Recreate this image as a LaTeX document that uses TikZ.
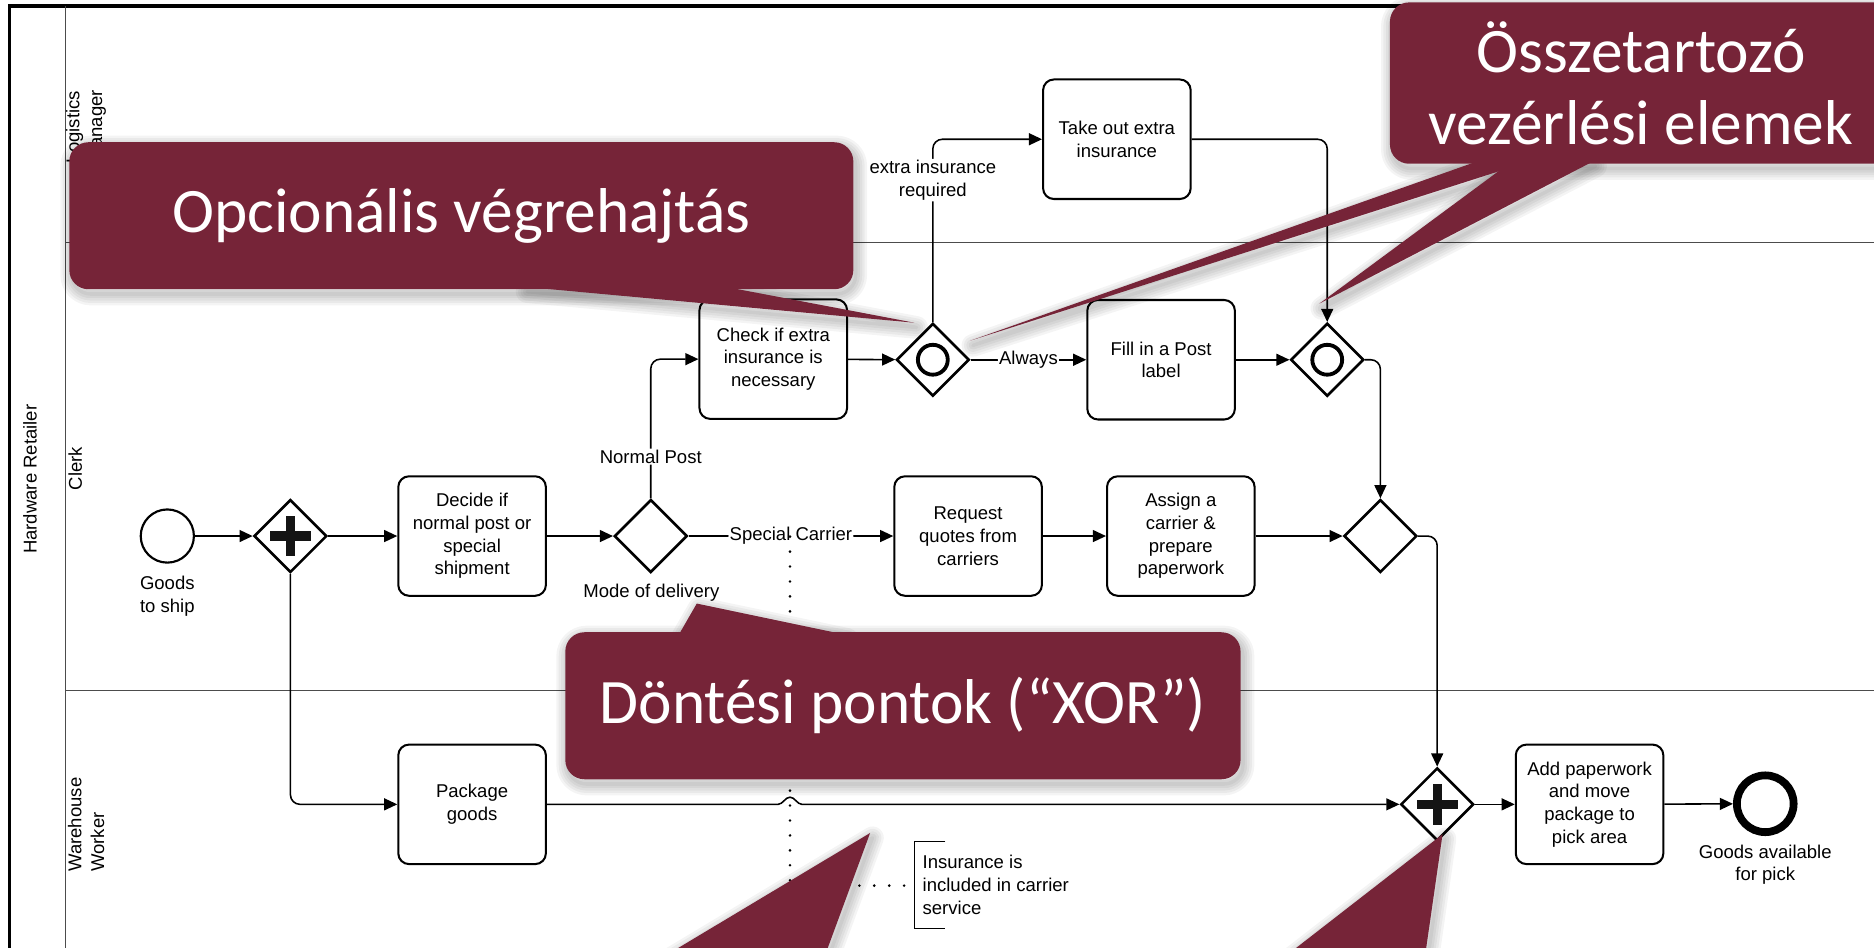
\documentclass[tikz,border=0pt]{standalone}
\usepackage{fontspec}
\setmainfont{Liberation Sans}
\newfontfamily\calfont{Carlito}
\usetikzlibrary{shapes.geometric,arrows.meta,calc}
\definecolor{callred}{RGB}{118,36,56}
\begin{document}
\begin{tikzpicture}[x=1pt,y=-1pt,
  bpmn/.style={font=\fontsize{15.5}{19}\selectfont},
  task/.style={draw, line width=1.7pt, rounded corners=9pt, minimum width=123.5pt, minimum height=100pt, align=center, inner sep=2pt, bpmn},
  gw/.style={draw, diamond, line width=2.2pt, minimum width=61pt, minimum height=61pt, inner sep=0pt, fill=white},
  gwplus/.style={gw, path picture={
      \fill[black!92] (path picture bounding box.center) ++(-17pt,-3.8pt) rectangle ++(34pt,7.6pt);
      \fill[black!92] (path picture bounding box.center) ++(-3.8pt,-17pt) rectangle ++(7.6pt,34pt);}},
  gwor/.style={gw, path picture={
      \draw[black, line width=3.2pt] (path picture bounding box.center) circle[radius=12.5pt];}},
  startev/.style={draw, circle, line width=1.8pt, minimum size=44.5pt, inner sep=0pt},
  endev/.style={draw, circle, line width=6.5pt, minimum size=47.5pt, inner sep=0pt},
  lbl/.style={bpmn, fill=white, inner sep=1pt, align=center},
  txt/.style={bpmn, inner sep=0pt, align=center},
  flow/.style={line width=1.3pt, -{Triangle[length=11pt,width=10pt]}, rounded corners=8pt},
  flowplain/.style={line width=1.3pt, -{Triangle[length=11pt,width=10pt]}},
  assoc/.style={line width=2.4pt, dash pattern=on 0pt off 12.5pt, line cap=round},
  laneline/.style={line width=1pt, draw=black!70},
  callbox/.style={fill=callred, rounded corners=16pt, text=white, align=center, inner sep=0pt,
      font=\calfont\fontsize{53}{60}\selectfont},
  shadowstroke/.style={draw=black, opacity=0.045, line join=round}
]
\useasboundingbox (0,0) rectangle (1568,793);
\begin{scope}
\clip (0,0) rectangle (1568,793);

% ---------- pool and lanes ----------
\draw[line width=2.6pt] (8,800) -- (8,5);
\draw[line width=4pt] (6.7,5) -- (1570,5);
\draw[laneline] (55,5) -- (55,800);
\draw[laneline] (55,203) -- (1570,203);
\draw[laneline] (55,578) -- (1570,578);
\node[bpmn, rotate=90] (poolname) at (25,401) {Hardware Retailer};
\node[bpmn, rotate=90, align=left] (lane1) at (72,106) {Logistics\\Manager};
\node[bpmn, rotate=90] (lane2) at (63,392) {Clerk};
\node[bpmn, rotate=90, align=left] (lane3) at (72,690) {Warehouse\\Worker};

% ---------- flow objects ----------
\node[startev] (start) at (140,448.5) {};
\node[txt] (startlbl) at (140,499) {Goods\\to ship};
\node[gwplus] (pg1) at (243,448.5) {};
\node[task] (decide) at (395,448.5) {Decide if\\normal post or\\special\\shipment};
\node[gw] (xor1) at (544.5,448.5) {};
\node[txt] (xor1lbl) at (545,496) {Mode of delivery};
\node[task] (check) at (647,300.5) {Check if extra\\insurance is\\necessary};
\node[gwor] (or1) at (780.5,301) {};
\node[task] (takeout) at (934.5,116.5) {Take out extra\\insurance};
\node[task] (fill) at (971.5,301) {Fill in a Post\\label};
\node[gwor] (or2) at (1110.5,301) {};
\node[task] (request) at (810,448.5) {Request\\quotes from\\carriers};
\node[task] (assign) at (988,448.5) {Assign a\\carrier \&\\prepare\\paperwork};
\node[gw] (xor2) at (1155,448.5) {};
\node[task] (package) at (395,673) {Package\\goods};
\node[gwplus] (pg2) at (1202.5,673) {};
\node[task] (addpw) at (1330,673) {Add paperwork\\and move\\package to\\pick area};
\node[endev] (endev) at (1477,672.5) {};
\node[txt] (endlbl) at (1477,723.5) {Goods available\\for pick};

% ---------- sequence flows ----------
\draw[flow] (start) -- (pg1);
\draw[flow] (pg1) -- (decide);
\draw[flow] (pg1.south) |- (package.west);
\draw[flow] (decide) -- (xor1);
\draw[flow] (xor1.north) -- node[lbl, pos=0.3] {Normal Post} (xor1.north |- check.west) -- (check.west);
\draw[flow] (xor1.east) -- node[lbl] {Special Carrier} (request.west);
\draw[flow] (check) -- (or1);
\draw[flow] (or1.east) -- node[lbl] {Always} (fill.west);
\draw[flow] (or1.north) -- node[lbl, pos=0.776] {extra insurance\\required} (or1.north |- takeout.west) -- (takeout.west);
\draw[flow] (takeout.east) -| (or2.north);
\draw[flow] (fill) -- (or2);
\draw[flow] (or2.east) -| (xor2.north);
\draw[flow] (request) -- (assign);
\draw[flow] (assign) -- (xor2);
\draw[flow] (xor2.east) -| (pg2.north);
\draw[flowplain] (package.east) -- (651,673) .. controls (655,673) and (657,667) .. (661,667)
      .. controls (665,667) and (667,673) .. (671,673) -- (pg2.west);
\draw[flow] (pg2) -- (addpw);
\draw[flow] (addpw) -- (endev);

% ---------- annotation ----------
\node[bpmn, align=left, anchor=west, minimum height=73pt, inner xsep=7pt, outer sep=0pt] (annot) at (765,740.5)
  {Insurance is\\included in carrier\\service};
\draw[line width=1pt] ($(annot.north west)+(26,0)$) -- (annot.north west) -- (annot.south west) -- ($(annot.south west)+(26,0)$);
\coordinate (ascA) at (661,449);
\coordinate (ascB) at (661,741);
\draw[assoc] (ascA) -- (ascB) -- (annot.west |- ascB);

% ---------- callout shadows ----------
\begin{scope}[shift={(2,4)}]
\foreach \w in {3,7,11,15,19}{
  \draw[shadowstroke, line width=\w pt, rounded corners=16pt] (58,119) rectangle (714,242);
  \draw[shadowstroke, line width=\w pt] (439,240) -- (765,270) -- (607,240) -- cycle;
  \draw[shadowstroke, line width=\w pt, rounded corners=16pt] (1163,2) rectangle (1583,137);
  \draw[shadowstroke, line width=\w pt] (1236,135) -- (812,285) -- (1280,135) -- cycle;
  \draw[shadowstroke, line width=\w pt] (1265,135) -- (1104,254) -- (1333,135) -- cycle;
  \draw[shadowstroke, line width=\w pt, rounded corners=16pt] (473,529) rectangle (1038,652);
  \draw[shadowstroke, line width=\w pt] (568,531) -- (583,505) -- (707,531) -- cycle;
  \draw[shadowstroke, line width=\w pt] (728,697) -- (679,830) -- (506,830) -- cycle;
  \draw[shadowstroke, line width=\w pt] (1207,698) -- (1188,830) -- (1037,830) -- cycle;
}
\end{scope}

% ---------- callouts ----------
\fill[callred] (439,240) -- (765,270) -- (607,240) -- cycle;
\fill[callred] (1236,135) -- (812,285) -- (1280,135) -- cycle;
\fill[callred] (1265,135) -- (1104,254) -- (1333,135) -- cycle;
\fill[callred] (568,531) -- (583,505) -- (707,531) -- cycle;
\fill[callred] (728,697) -- (679,830) -- (506,830) -- cycle;
\fill[callred] (1207,698) -- (1188,830) -- (1037,830) -- cycle;
\node[callbox, minimum width=656pt, minimum height=123pt] (c1) at (386,180.5) {Opcionális végrehajtás};
\node[callbox, minimum width=420pt, minimum height=135pt] (c2) at (1373,69.5) {Összetartozó\\vezérlési elemek};
\node[callbox, minimum width=565pt, minimum height=123pt] (c3) at (755.5,590.5) {Döntési pontok (“XOR”)};
\end{scope}
\end{tikzpicture}
\end{document}
